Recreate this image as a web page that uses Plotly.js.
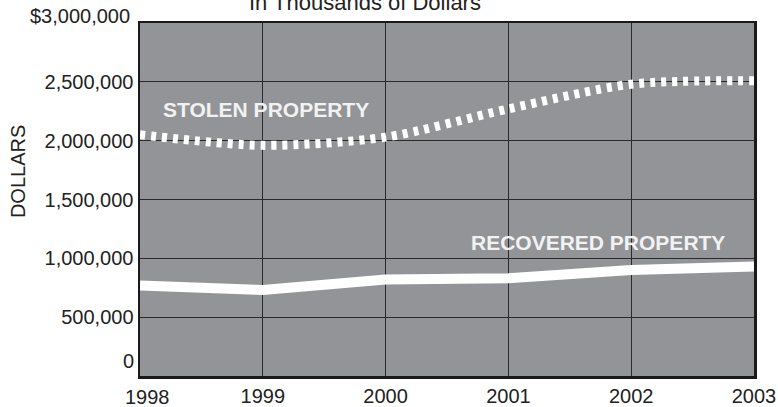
<!DOCTYPE html>
<html>
<head>
<meta charset="utf-8">
<script src="https://cdn.plot.ly/plotly-3.0.1.min.js"></script>
<style>html,body{margin:0;padding:0;background:#fff;}#chart{width:778px;height:407px;}</style>
</head>
<body>
<div id="chart"></div>
<script>
const years = [1998, 1999, 2000, 2001, 2002, 2003];
const stolen = [2050000, 1960000, 2030000, 2270000, 2480000, 2510000];
const recovered = [770000, 730000, 820000, 830000, 900000, 930000];
const yTickVals = [0, 500000, 1000000, 1500000, 2000000, 2500000, 3000000];
const yTickText = ['', '500,000', '1,000,000', '1,500,000', '2,000,000', '2,500,000', ''];
const xTickText = ['', '1999', '2000', '2001', '2002', '2003'];

const font = 'Liberation Sans, Arial, Helvetica, sans-serif';

const traces = [
  {x: years, y: stolen, type: 'scatter', mode: 'lines',
   line: {color: '#ffffff', width: 9, dash: '5px,6px', shape: 'spline', smoothing: 0.8},
   hoverinfo: 'skip'},
  {x: years, y: recovered, type: 'scatter', mode: 'lines',
   line: {color: '#ffffff', width: 10}, hoverinfo: 'skip'}
];

const layout = {
  width: 778, height: 407,
  margin: {l: 140, r: 24, t: 23, b: 31},
  paper_bgcolor: '#ffffff',
  plot_bgcolor: 'rgb(147,148,152)',
  showlegend: false,
  xaxis: {range: [1998, 2003], tickvals: years, ticktext: xTickText,
    showgrid: true, gridcolor: '#2a2a2a', gridwidth: 1,
    showline: true, mirror: true, linecolor: '#1a1a1a', linewidth: 2.5,
    zeroline: false, ticks: '', tickfont: {family: font, size: 20, color: '#222'}},
  yaxis: {range: [0, 3000000], tickvals: yTickVals, ticktext: yTickText,
    showgrid: true, gridcolor: '#2a2a2a', gridwidth: 1,
    showline: true, mirror: true, linecolor: '#1a1a1a', linewidth: 2.5,
    zeroline: false, ticks: '', tickfont: {family: font, size: 20, color: '#222'}},
  annotations: [
    {text: 'In Thousands of Dollars', xref: 'paper', yref: 'paper', x: 0.366, y: 1,
     yanchor: 'middle', yshift: 21, showarrow: false, font: {family: font, size: 22, color: '#222'}},
    {text: 'DOLLARS', xref: 'paper', yref: 'paper', x: -0.199, xanchor: 'center',
     y: 0.58, yanchor: 'middle', textangle: -90, showarrow: false,
     font: {family: font, size: 20, color: '#222'}},
    {text: '$3,000,000', xref: 'paper', yref: 'y', x: 0, xanchor: 'right', xshift: -8,
     y: 3000000, yanchor: 'middle', yshift: 7, showarrow: false, font: {family: font, size: 20, color: '#222'}},
    {text: '0', xref: 'paper', yref: 'y', x: 0, xanchor: 'right', xshift: -4,
     y: 0, yanchor: 'middle', yshift: 15, showarrow: false, font: {family: font, size: 20, color: '#222'}},
    {text: '1998', xref: 'x', yref: 'paper', x: 1998, xanchor: 'center', xshift: 7,
     y: 0, yanchor: 'top', yshift: -8, showarrow: false, font: {family: font, size: 20, color: '#222'}},
    {text: '<b>STOLEN PROPERTY</b>', xref: 'x', yref: 'y', x: 1999.03, y: 2266000,
     showarrow: false, font: {family: font, size: 21, color: '#f2f2f2'}},
    {text: '<b>RECOVERED PROPERTY</b>', xref: 'x', yref: 'y', x: 2001.73, y: 1133000,
     showarrow: false, font: {family: font, size: 21, color: '#f2f2f2'}}
  ]
};

Plotly.newPlot('chart', traces, layout, {displayModeBar: false, staticPlot: true});
</script>
</body>
</html>
